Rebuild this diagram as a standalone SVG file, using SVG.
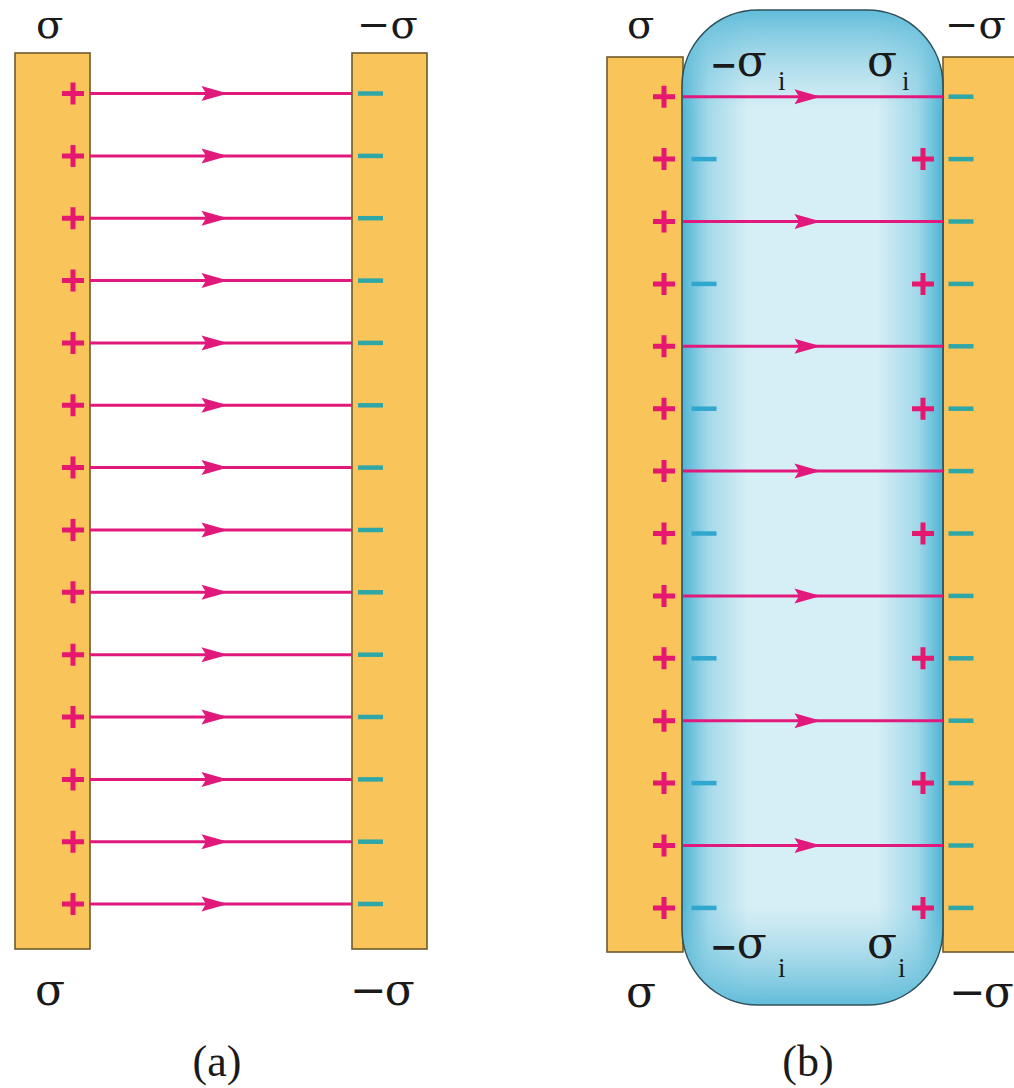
<svg xmlns="http://www.w3.org/2000/svg" width="1014" height="1088" viewBox="0 0 1014 1088">
<style>
.plate{fill:#f9c45a;stroke:#6e5b2b;stroke-width:1.6}
.fl{fill:none;stroke:#e2197d;stroke-width:3;marker-mid:url(#ah)}
.plus{stroke:#e5176f;stroke-width:5;fill:none}
.mp{stroke:#2fa7a6;stroke-width:4.5;fill:none}
.md{stroke:#31a6cf;stroke-width:4.5;fill:none}
.t{font-family:"DejaVu Serif","Liberation Serif",serif;font-size:40px;fill:#1a1a1a}
.b{font-size:44px}
.m{font-weight:bold;font-size:33px}
.c{font-family:"Liberation Serif","Times New Roman",serif;font-size:44px;fill:#1a1a1a}
.s{font-family:"Liberation Serif","Times New Roman",serif;font-size:27px;fill:#1a1a1a}
</style>
<defs>
<marker id="ah" markerUnits="userSpaceOnUse" markerWidth="30" markerHeight="20" viewBox="-24 -8 26 16" refX="0" refY="0" orient="auto">
<path d="M0,0 L-23,-6.5 L-19,0 L-23,6.5 Z" fill="#e2197d"/>
</marker>
<linearGradient id="dh" x1="0" y1="0" x2="1" y2="0">
<stop offset="0" stop-color="#4fb4d4"/>
<stop offset="0.1" stop-color="#a3d9ea"/>
<stop offset="0.25" stop-color="#d6eef5"/>
<stop offset="0.75" stop-color="#d6eef5"/>
<stop offset="0.9" stop-color="#a3d9ea"/>
<stop offset="1" stop-color="#4fb4d4"/>
</linearGradient>
<linearGradient id="dv" x1="0" y1="0" x2="0" y2="1">
<stop offset="0" stop-color="#5bbad8" stop-opacity="0.95"/>
<stop offset="0.1" stop-color="#8fd0e4" stop-opacity="0"/>
<stop offset="0.9" stop-color="#8fd0e4" stop-opacity="0"/>
<stop offset="1" stop-color="#5bbad8" stop-opacity="0.95"/>
</linearGradient>
<path id="pl" d="M-11,0 H11 M0,-11 V11"/>
<path id="mi" d="M-12.5,0 H12.5"/>
</defs>

<g id="panel-a">
<g id="a-plate-left"><rect class="plate" x="15" y="53" width="75" height="896"/></g>
<g id="a-plate-right"><rect class="plate" x="352" y="53" width="75" height="896"/></g>
<g id="a-plus">
<use href="#pl" class="plus" x="73" y="93.5"/><use href="#pl" class="plus" x="73" y="155.9"/><use href="#pl" class="plus" x="73" y="218.2"/><use href="#pl" class="plus" x="73" y="280.6"/><use href="#pl" class="plus" x="73" y="342.9"/><use href="#pl" class="plus" x="73" y="405.3"/><use href="#pl" class="plus" x="73" y="467.6"/><use href="#pl" class="plus" x="73" y="530"/><use href="#pl" class="plus" x="73" y="592.3"/><use href="#pl" class="plus" x="73" y="654.7"/><use href="#pl" class="plus" x="73" y="717"/><use href="#pl" class="plus" x="73" y="779.4"/><use href="#pl" class="plus" x="73" y="841.7"/><use href="#pl" class="plus" x="73" y="904"/>
</g>
<g id="a-minus">
<use href="#mi" class="mp" x="370.5" y="93.5"/><use href="#mi" class="mp" x="370.5" y="155.9"/><use href="#mi" class="mp" x="370.5" y="218.2"/><use href="#mi" class="mp" x="370.5" y="280.6"/><use href="#mi" class="mp" x="370.5" y="342.9"/><use href="#mi" class="mp" x="370.5" y="405.3"/><use href="#mi" class="mp" x="370.5" y="467.6"/><use href="#mi" class="mp" x="370.5" y="530"/><use href="#mi" class="mp" x="370.5" y="592.3"/><use href="#mi" class="mp" x="370.5" y="654.7"/><use href="#mi" class="mp" x="370.5" y="717"/><use href="#mi" class="mp" x="370.5" y="779.4"/><use href="#mi" class="mp" x="370.5" y="841.7"/><use href="#mi" class="mp" x="370.5" y="904"/>
</g>
<g id="a-labels">
<text class="t" x="36" y="37.5">σ</text>
<text class="t" x="357" y="37.5">−σ</text>
<text class="t b" x="35" y="1005">σ</text>
<text class="t b" x="350" y="1005" letter-spacing="-2">−σ</text>
<text class="c" x="217" y="1076" text-anchor="middle">(a)</text>
</g>
</g>

<g id="panel-b">
<g id="b-plate-left"><rect class="plate" x="607" y="57" width="76" height="895"/></g>
<g id="b-plate-right"><rect class="plate" x="943" y="57" width="80" height="895"/></g>
<g id="b-dielectric">
<rect x="682" y="10" width="261" height="995" rx="76" ry="76" fill="url(#dh)"/>
<rect x="682" y="10" width="261" height="995" rx="76" ry="76" fill="url(#dv)" stroke="#2f4f5a" stroke-width="1.6"/>
</g>
<g id="b-plus-plate">
<use href="#pl" class="plus" x="664" y="96.7"/><use href="#pl" class="plus" x="664" y="159.1"/><use href="#pl" class="plus" x="664" y="221.5"/><use href="#pl" class="plus" x="664" y="283.9"/><use href="#pl" class="plus" x="664" y="346.3"/><use href="#pl" class="plus" x="664" y="408.7"/><use href="#pl" class="plus" x="664" y="471.1"/><use href="#pl" class="plus" x="664" y="533.5"/><use href="#pl" class="plus" x="664" y="595.9"/><use href="#pl" class="plus" x="664" y="658.3"/><use href="#pl" class="plus" x="664" y="720.7"/><use href="#pl" class="plus" x="664" y="783.1"/><use href="#pl" class="plus" x="664" y="845.5"/><use href="#pl" class="plus" x="664" y="907.9"/>
</g>
<g id="b-minus-plate">
<use href="#mi" class="mp" x="961" y="96.7"/><use href="#mi" class="mp" x="961" y="159.1"/><use href="#mi" class="mp" x="961" y="221.5"/><use href="#mi" class="mp" x="961" y="283.9"/><use href="#mi" class="mp" x="961" y="346.3"/><use href="#mi" class="mp" x="961" y="408.7"/><use href="#mi" class="mp" x="961" y="471.1"/><use href="#mi" class="mp" x="961" y="533.5"/><use href="#mi" class="mp" x="961" y="595.9"/><use href="#mi" class="mp" x="961" y="658.3"/><use href="#mi" class="mp" x="961" y="720.7"/><use href="#mi" class="mp" x="961" y="783.1"/><use href="#mi" class="mp" x="961" y="845.5"/><use href="#mi" class="mp" x="961" y="907.9"/>
</g>
<g id="b-induced-minus">
<use href="#mi" class="md" x="704" y="159.1"/><use href="#mi" class="md" x="704" y="283.9"/><use href="#mi" class="md" x="704" y="408.7"/><use href="#mi" class="md" x="704" y="533.5"/><use href="#mi" class="md" x="704" y="658.3"/><use href="#mi" class="md" x="704" y="783.1"/><use href="#mi" class="md" x="704" y="907.9"/>
</g>
<g id="b-induced-plus">
<use href="#pl" class="plus" x="923" y="159.1"/><use href="#pl" class="plus" x="923" y="283.9"/><use href="#pl" class="plus" x="923" y="408.7"/><use href="#pl" class="plus" x="923" y="533.5"/><use href="#pl" class="plus" x="923" y="658.3"/><use href="#pl" class="plus" x="923" y="783.1"/><use href="#pl" class="plus" x="923" y="907.9"/>
</g>
<g id="b-labels">
<text class="t" x="627" y="37.5">σ</text>
<text class="t" x="945" y="37.5">−σ</text>
<text class="t b" x="626" y="1007">σ</text>
<text class="t b" x="949" y="1007" letter-spacing="-2">−σ</text>
<text class="t b" x="710" y="76"><tspan class="m">−</tspan><tspan dx="-1">σ</tspan></text>
<text class="s" x="778" y="90">i</text>
<text class="t b" x="867" y="76">σ</text>
<text class="s" x="902" y="90">i</text>
<text class="t b" x="710" y="958"><tspan class="m">−</tspan><tspan dx="-1">σ</tspan></text>
<text class="s" x="778" y="977">i</text>
<text class="t b" x="867" y="958">σ</text>
<text class="s" x="898" y="977">i</text>
<text class="c" x="808" y="1076" text-anchor="middle">(b)</text>
</g>
</g>

<g id="connectors">
<path class="fl" d="M90,93.5 H228 H352"/>
<path class="fl" d="M90,155.9 H228 H352"/>
<path class="fl" d="M90,218.2 H228 H352"/>
<path class="fl" d="M90,280.6 H228 H352"/>
<path class="fl" d="M90,342.9 H228 H352"/>
<path class="fl" d="M90,405.3 H228 H352"/>
<path class="fl" d="M90,467.6 H228 H352"/>
<path class="fl" d="M90,530 H228 H352"/>
<path class="fl" d="M90,592.3 H228 H352"/>
<path class="fl" d="M90,654.7 H228 H352"/>
<path class="fl" d="M90,717 H228 H352"/>
<path class="fl" d="M90,779.4 H228 H352"/>
<path class="fl" d="M90,841.7 H228 H352"/>
<path class="fl" d="M90,904 H228 H352"/>
<path class="fl" d="M683,96.7 H821 H943"/>
<path class="fl" d="M683,221.5 H821 H943"/>
<path class="fl" d="M683,346.3 H821 H943"/>
<path class="fl" d="M683,471.1 H821 H943"/>
<path class="fl" d="M683,595.9 H821 H943"/>
<path class="fl" d="M683,720.7 H821 H943"/>
<path class="fl" d="M683,845.5 H821 H943"/>
</g>
</svg>
